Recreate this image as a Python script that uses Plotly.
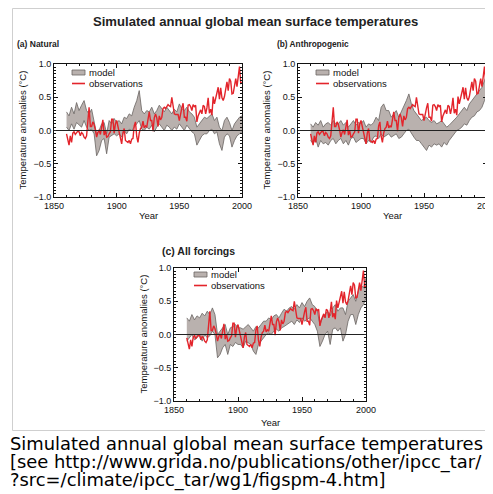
import plotly.graph_objects as go

# ---------------- data ----------------
years_obs = list(range(1860, 2001))
observations = [
    -0.05, -0.15, -0.22, -0.08, -0.18, -0.04, -0.02, -0.06, -0.03, -0.01, # 1860s
    -0.02, -0.08, -0.03, -0.05, -0.10, -0.12, -0.08, 0.22, 0.35, 0.06,    # 1870s
    0.06, 0.13, 0.09, 0.01, -0.10, -0.03, 0.01, -0.06, 0.04, 0.16,        # 1880s
    -0.07, 0.00, -0.10, -0.09, -0.05, -0.02, 0.17, 0.17, -0.04, 0.10,     # 1890s
    0.15, 0.07, -0.04, -0.12, -0.20, -0.04, 0.03, -0.15, -0.17, -0.18,    # 1900s
    -0.15, -0.20, -0.13, -0.12, 0.07, 0.13, -0.09, -0.18, -0.04, 0.03,    # 1910s
    0.05, 0.14, 0.04, 0.07, 0.05, 0.14, 0.28, 0.15, 0.15, -0.01,          # 1920s
    0.19, 0.25, 0.19, 0.06, 0.22, 0.16, 0.20, 0.33, 0.35, 0.33,           # 1930s
    0.37, 0.39, 0.37, 0.36, 0.50, 0.38, 0.25, 0.24, 0.24, 0.24,           # 1940s
    0.15, 0.26, 0.34, 0.41, 0.20, 0.20, 0.14, 0.38, 0.39, 0.36,           # 1950s
    0.30, 0.39, 0.36, 0.38, 0.13, 0.22, 0.27, 0.31, 0.25, 0.38,           # 1960s
    0.36, 0.25, 0.34, 0.49, 0.26, 0.32, 0.23, 0.51, 0.40, 0.49,           # 1970s
    0.59, 0.65, 0.47, 0.64, 0.49, 0.45, 0.51, 0.66, 0.73, 0.60,           # 1980s
    0.78, 0.74, 0.55, 0.56, 0.65, 0.78, 0.66, 0.79, 0.96, 0.71,           # 1990s
    0.72,                                                                 # 2000
]

years_model = list(range(1860, 2001, 2))

natural_hi = [
    0.28, 0.22, 0.35, 0.25, 0.42, 0.30, 0.38, 0.45, 0.30, 0.25, 0.32,
    0.15, -0.05, 0.00, 0.10, 0.12, -0.05, 0.15, 0.10, 0.18, 0.12,
    0.15, 0.10, 0.20, 0.18, 0.25, 0.22, 0.35, 0.45, 0.60, 0.30,
    0.25, 0.30, 0.28, 0.35, 0.25, 0.30, 0.38, 0.32, 0.28, 0.35,
    0.30, 0.25, 0.32, 0.28, 0.40, 0.33, 0.30, 0.35, 0.28, 0.25,
    0.20, 0.05, 0.10, 0.15, 0.20, 0.18, 0.22, 0.25, 0.15, 0.20,
    0.05, 0.00, 0.15, 0.20, 0.12, 0.00, 0.10, 0.15, 0.20, 0.22,
]
natural_lo = [
    0.05, 0.00, 0.10, 0.02, 0.12, 0.08, 0.05, 0.15, 0.05, 0.00, 0.02,
    -0.05, -0.38, -0.30, -0.15, -0.12, -0.35, -0.10, -0.08, -0.05, -0.08,
    -0.05, -0.10, 0.00, -0.05, 0.02, 0.00, 0.05, 0.10, 0.15, 0.02,
    0.00, 0.05, 0.02, 0.08, -0.02, 0.05, 0.10, 0.05, 0.00, 0.08,
    0.05, 0.00, 0.05, 0.02, 0.10, 0.05, 0.00, 0.08, 0.02, -0.02,
    -0.05, -0.22, -0.15, -0.08, -0.05, -0.05, 0.00, 0.02, -0.05, -0.02,
    -0.20, -0.30, -0.10, -0.05, -0.08, -0.25, -0.15, -0.08, -0.05, -0.02,
]

anthro_hi = [
    0.10, 0.05, 0.12, 0.08, 0.15, 0.05, 0.10, 0.12, 0.08, 0.15, 0.10,
    0.10, 0.15, 0.08, 0.12, 0.05, 0.10, 0.15, 0.08, 0.12, 0.10,
    0.15, 0.05, 0.10, 0.08, 0.12, 0.20, 0.15, 0.35, 0.40, 0.30,
    0.30, 0.20, 0.25, 0.30, 0.20, 0.28, 0.35, 0.45, 0.55, 0.40,
    0.30, 0.25, 0.20, 0.15, 0.18, 0.20, 0.15, 0.12, 0.15, 0.10,
    0.12, 0.15, 0.10, 0.05, 0.08, 0.12, 0.15, 0.20, 0.25, 0.30,
    0.35, 0.30, 0.40, 0.45, 0.50, 0.55, 0.60, 0.65, 0.75, 0.85,
]
anthro_lo = [
    -0.15, -0.20, -0.12, -0.25, -0.15, -0.20, -0.18, -0.22, -0.15, -0.12, -0.20,
    -0.15, -0.12, -0.20, -0.15, -0.22, -0.12, -0.10, -0.18, -0.15, -0.12,
    -0.12, -0.20, -0.15, -0.18, -0.10, -0.08, -0.12, -0.05, -0.10, -0.08,
    -0.05, -0.10, -0.08, -0.05, -0.12, -0.10, -0.05, 0.00, 0.02, -0.05,
    -0.10, -0.15, -0.15, -0.20, -0.25, -0.30, -0.22, -0.25, -0.20, -0.22,
    -0.20, -0.25, -0.18, -0.22, -0.15, -0.10, -0.05, 0.00, 0.02, 0.05,
    0.10, 0.08, 0.15, 0.20, 0.22, 0.28, 0.30, 0.35, 0.45, 0.55,
]

allf_hi = [
    0.25, 0.20, 0.30, 0.22, 0.28, 0.25, 0.32, 0.28, 0.35, 0.30, 0.40,
    0.30, 0.00, 0.05, 0.10, 0.15, 0.00, 0.10, 0.12, 0.15, 0.10,
    0.10, 0.08, 0.12, 0.15, 0.10, 0.05, 0.12, 0.10, 0.15, 0.20,
    0.20, 0.25, 0.22, 0.28, 0.30, 0.25, 0.32, 0.38, 0.35, 0.40,
    0.42, 0.38, 0.45, 0.40, 0.48, 0.42, 0.50, 0.55, 0.45, 0.42,
    0.35, 0.15, 0.25, 0.30, 0.35, 0.28, 0.40, 0.45, 0.35, 0.40,
    0.40, 0.30, 0.50, 0.55, 0.60, 0.50, 0.65, 0.75, 0.70, 0.85,
]
allf_lo = [
    -0.10, -0.05, 0.00, -0.08, -0.05, 0.00, -0.10, 0.00, -0.05, -0.02, 0.05,
    0.00, -0.35, -0.30, -0.20, -0.15, -0.30, -0.15, -0.18, -0.12, -0.15,
    -0.15, -0.20, -0.10, -0.12, -0.15, -0.25, -0.30, -0.15, -0.10, -0.05,
    0.00, 0.02, 0.00, 0.05, 0.08, 0.05, 0.10, 0.12, 0.15, 0.18,
    0.20, 0.15, 0.22, 0.18, 0.25, 0.20, 0.22, 0.25, 0.20, 0.15,
    0.05, -0.18, -0.10, 0.00, 0.05, -0.15, 0.08, 0.10, 0.05, 0.10,
    -0.10, 0.00, 0.20, 0.30, 0.30, 0.15, 0.30, 0.40, 0.45, 0.55,
]

panel_titles = ["(a) Natural", "(b) Anthropogenic", "(c) All forcings"]
legend_labels = ["model", "observations"]
x_ticks = [1850, 1900, 1950, 2000]
y_ticks = [-1.0, -0.5, 0.0, 0.5, 1.0]
y_title = "Temperature anomalies (°C)"
x_title = "Year"
main_title = "Simulated annual global mean surface temperatures"
caption_lines = [
    "Simulated annual global mean surface temperatures",
    "[see http://www.grida.no/publications/other/ipcc_tar/",
    "?src=/climate/ipcc_tar/wg1/figspm-4.htm]",
]

# ---------------- layout helpers ----------------
# the page body has an 8px margin, so the figure starts at (8, 8) in the window
OX, OY = 8, 8
W, H = 493 - OX, 494 - OY


def px(x):
    return (x - OX) / W


def py(y):
    return 1 - (y - OY) / H


RED = "#e3242b"
BAND = "#b9b1ae"
EDGE = "#6a6462"
FONT = "Arial"
TXT = "#111"

# panel pixel boxes (window pixels): left, right, top, bottom
boxes = [(54, 242, 64, 197), (298, 487, 64, 197), (174, 366, 268, 401)]
bands = [(natural_lo, natural_hi), (anthro_lo, anthro_hi), (allf_lo, allf_hi)]
ytitle_x = [22, 266, 143]
xtitle_y = [215, 215, 422]

fig = go.Figure()

for i, (lo, hi) in enumerate(bands):
    sfx = "" if i == 0 else str(i + 1)
    xa, ya = "x" + sfx, "y" + sfx
    fig.add_trace(go.Scatter(x=years_model, y=lo, mode="lines",
                             line=dict(color=EDGE, width=0.8),
                             xaxis=xa, yaxis=ya, showlegend=False, hoverinfo="skip"))
    fig.add_trace(go.Scatter(x=years_model, y=hi, mode="lines", fill="tonexty",
                             fillcolor=BAND, line=dict(color=EDGE, width=0.8),
                             xaxis=xa, yaxis=ya, name="model", showlegend=False))
    fig.add_trace(go.Scatter(x=years_obs, y=observations, mode="lines",
                             line=dict(color=RED, width=1.4),
                             xaxis=xa, yaxis=ya, name="observations", showlegend=False))

layout = dict(
    width=W, height=H, autosize=False,
    margin=dict(l=0, r=0, t=0, b=0, pad=0, autoexpand=False),
    paper_bgcolor="white", plot_bgcolor="white",
    showlegend=False,
)

axis_common = dict(showline=True, linecolor=TXT, linewidth=1, mirror="ticks",
                   ticks="inside", ticklen=4, tickcolor=TXT, tickwidth=1,
                   showgrid=False, zeroline=False, automargin=False,
                   ticklabeloverflow="allow",
                   tickfont=dict(family=FONT, size=9, color=TXT))

annotations = []
shapes = []
for i, (l, r, t, b) in enumerate(boxes):
    sfx = "" if i == 0 else str(i + 1)
    layout["xaxis" + sfx] = dict(
        axis_common, domain=[px(l), px(r)], anchor="y" + sfx, range=[1850, 2000],
        tickvals=x_ticks,
        minor=dict(ticks="inside", ticklen=2, dtick=10, tickcolor=TXT),
    )
    layout["yaxis" + sfx] = dict(
        axis_common, domain=[py(b), py(t)], anchor="x" + sfx, range=[-1, 1],
        tickvals=y_ticks, tickformat=".1f",
        minor=dict(ticks="inside", ticklen=2, dtick=0.05, tickcolor=TXT),
    )
    # axis titles
    annotations.append(dict(text=y_title, xref="paper", yref="paper",
                            x=px(ytitle_x[i]), y=py((t + b) / 2), textangle=-90,
                            xanchor="center", yanchor="middle", showarrow=False,
                            font=dict(family=FONT, size=9.5, color=TXT)))
    annotations.append(dict(text=x_title, xref="paper", yref="paper",
                            x=px((l + r) / 2), y=py(xtitle_y[i]),
                            xanchor="center", yanchor="middle", showarrow=False,
                            font=dict(family=FONT, size=9.5, color=TXT)))
    # zero line above the band
    shapes.append(dict(type="line", xref="x" + sfx + " domain", yref="y" + sfx,
                       x0=0, x1=1, y0=0, y1=0, line=dict(color="#222", width=1), layer="above"))
    # legend key
    lx = l + (20 if i == 2 else 18)
    ly = t + (6.5 if i == 2 else 8.5)
    shapes.append(dict(type="rect", xref="paper", yref="paper",
                       x0=px(lx), x1=px(lx + 13), y0=py(ly + 2.5), y1=py(ly - 2.5),
                       fillcolor=BAND, line=dict(color=EDGE, width=0.8)))
    shapes.append(dict(type="line", xref="paper", yref="paper",
                       x0=px(lx), x1=px(lx + 13), y0=py(ly + 11), y1=py(ly + 11),
                       line=dict(color=RED, width=1.6)))
    for k, lab in enumerate(legend_labels):
        annotations.append(dict(text=lab, xref="paper", yref="paper",
                                x=px(lx + 15), y=py(ly + 11 * k), xanchor="left",
                                yanchor="middle", showarrow=False,
                                font=dict(family=FONT, size=9.5, color=TXT)))

# titles
annotations.append(dict(text="<b>" + main_title + "</b>", xref="paper", yref="paper",
                        x=px(255.5), y=py(21), xanchor="center", yanchor="middle",
                        showarrow=False, font=dict(family=FONT, size=13.1, color="#222")))
title_pos = [(15, 44, 8.5), (275, 44, 8.3), (160, 251, 10.5)]
for txt, (x, y, s) in zip(panel_titles, title_pos):
    annotations.append(dict(text="<b>" + txt + "</b>", xref="paper", yref="paper",
                            x=px(x), y=py(y), xanchor="left", yanchor="middle",
                            showarrow=False, font=dict(family=FONT, size=s, color="#222")))

# image frame
shapes.append(dict(type="rect", xref="paper", yref="paper",
                   x0=px(12.5), x1=px(520), y0=py(430.5), y1=py(8.5),
                   line=dict(color="#cfcfcf", width=1), layer="below"))

# caption
for k, line in enumerate(caption_lines):
    annotations.append(dict(text=line, xref="paper", yref="paper",
                            x=px(8), y=py(443 + 18.6 * k), xanchor="left", yanchor="middle",
                            showarrow=False,
                            font=dict(family="DejaVu Sans", size=17.9, color="#000")))

layout["annotations"] = annotations
layout["shapes"] = shapes
fig.update_layout(**layout)
fig.write_html("out.html")
